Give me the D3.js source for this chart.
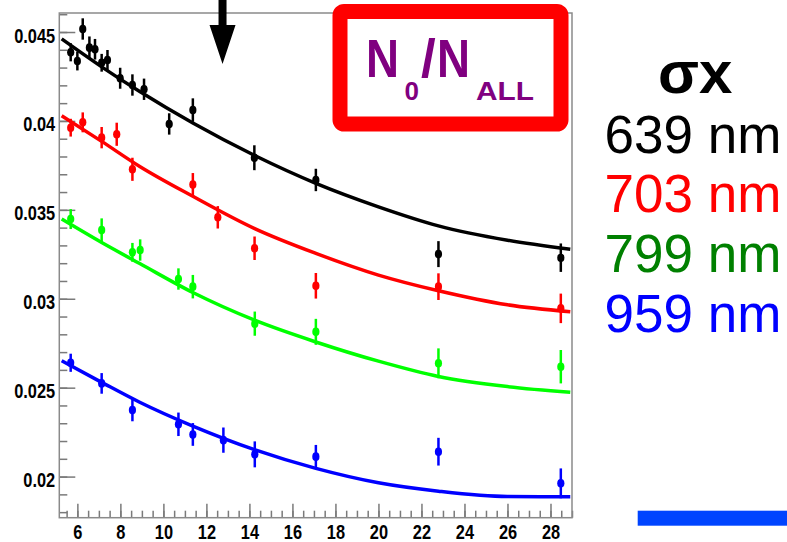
<!DOCTYPE html>
<html>
<head>
<meta charset="utf-8">
<script src="https://cdn.jsdelivr.net/npm/d3@7/dist/d3.min.js"></script>
<style>
body{margin:0;background:#fff;}
svg{display:block;}
</style>
</head>
<body>
<svg id="chart" width="787" height="542"></svg>
<script>
// 数据点 (x, y, 误差)
var xBlack = [5.69, 6.0, 6.25, 6.56, 6.82, 7.13, 7.40, 7.99, 8.56, 9.10, 10.27, 11.37, 14.23, 17.09, 22.79, 28.48];
var yBlack = [0.04386, 0.04337, 0.04517, 0.04412, 0.04403, 0.04327, 0.04343, 0.04240, 0.04202, 0.04178, 0.03983, 0.04061, 0.03793, 0.03668, 0.03251, 0.03231];
var eBlack = [0.00051, 0.00053, 0.0006, 0.00063, 0.00058, 0.0005, 0.00056, 0.00059, 0.0006, 0.0006, 0.0006, 0.00066, 0.0007, 0.00063, 0.00073, 0.0008];

var xRed = [5.69, 6.25, 7.13, 7.83, 8.56, 11.37, 12.53, 14.24, 17.09, 22.79, 28.48];
var yRed = [0.03962, 0.03992, 0.03906, 0.03925, 0.03728, 0.03642, 0.03458, 0.03284, 0.03073, 0.03068, 0.02946];
var eRed = [0.0005, 0.00056, 0.0006, 0.00065, 0.00065, 0.00065, 0.00063, 0.00066, 0.00072, 0.00075, 0.00083];

var xGreen = [5.69, 7.13, 8.56, 8.92, 10.70, 11.37, 14.25, 17.09, 22.79, 28.48];
var yGreen = [0.03448, 0.03386, 0.03261, 0.03274, 0.03111, 0.03068, 0.02860, 0.02814, 0.02637, 0.02618];
var eGreen = [0.00056, 0.00066, 0.00053, 0.0006, 0.0006, 0.00066, 0.00068, 0.00073, 0.00084, 0.00094];

var xBlue = [5.69, 7.13, 8.56, 10.70, 11.37, 12.79, 14.25, 17.09, 22.79, 28.48];
var yBlue = [0.02640, 0.02524, 0.02374, 0.02294, 0.02237, 0.02205, 0.02125, 0.02112, 0.02140, 0.01962];
var eBlue = [0.00051, 0.00058, 0.00063, 0.00066, 0.00064, 0.00071, 0.00073, 0.00066, 0.00078, 0.00084];

// 拟合曲线 (从图上读出的点)
var fitX     = [5.27, 7.13, 8.9, 11.37, 14.27, 17.09, 20, 22.79, 26, 28.92];
var fitBlack = [0.04461, 0.04304, 0.04165, 0.03988, 0.03804, 0.03649, 0.03517, 0.03410, 0.03329, 0.03278];
var fitRed   = [0.04029, 0.03885, 0.03744, 0.03576, 0.03393, 0.03255, 0.03133, 0.03045, 0.02966, 0.02927];
var fitGreen = [0.03448, 0.03316, 0.03198, 0.03035, 0.02878, 0.02757, 0.02649, 0.02563, 0.02506, 0.02474];
var fitBlue  = [0.02651, 0.02530, 0.02418, 0.02284, 0.02150, 0.02046, 0.01965, 0.01918, 0.01888, 0.01887];

// 刻度 / 图例
var xTicks = [6, 8, 10, 12, 14, 16, 18, 20, 22, 24, 26, 28];
var yTicks = [0.02, 0.025, 0.03, 0.035, 0.04, 0.045];
var legendTitle = "σx";
var legendLabels = ["639 nm", "703 nm", "799 nm", "959 nm"];
var arrowAt = 12.75;

var series = [
	{x: xBlack, y: yBlack, e: eBlack, fit: fitBlack, color: "#000000", text: "#000000"},
	{x: xRed,   y: yRed,   e: eRed,   fit: fitRed,   color: "#ff0000", text: "#ff0000"},
	{x: xGreen, y: yGreen, e: eGreen, fit: fitGreen, color: "#00ff00", text: "#008000"},
	{x: xBlue,  y: yBlue,  e: eBlue,  fit: fitBlue,  color: "#0000ff", text: "#0000ff"}
];

var padL = 59.3, padT = 13, padR = 572, padB = 517.7;
var x = d3.scaleLinear().domain([5.16, 29.0]).range([padL, padR]);
var y = d3.scaleLinear().domain([0.017688, 0.046069]).range([padB, padT]);

var svg = d3.select("#chart");
var font = "'Liberation Sans', Arial, sans-serif";

// 次刻度
svg.append("g")
	.attr("transform", "translate(" + padL + ",0)")
	.call(d3.axisLeft(y).tickValues(y.ticks(28)).tickSize(-8).tickFormat(""))
	.call(function(g){ g.select(".domain").remove(); });
svg.append("g")
	.attr("transform", "translate(0," + padB + ")")
	.call(d3.axisBottom(x).tickValues(x.ticks(48)).tickSize(-7).tickFormat(""))
	.call(function(g){ g.select(".domain").remove(); });

// 主刻度
var yAxis = svg.append("g")
	.attr("transform", "translate(" + padL + ",0)")
	.call(d3.axisLeft(y).tickValues(yTicks).tickSize(-16).tickPadding(5).tickFormat(d3.format(".3~f")))
	.call(function(g){ g.select(".domain").remove(); });
yAxis.selectAll("text").attr("dy", "0.5em");

var xAxis = svg.append("g")
	.attr("transform", "translate(0," + padB + ")")
	.call(d3.axisBottom(x).tickValues(xTicks).tickSize(-14).tickPadding(7).tickFormat(d3.format("d")))
	.call(function(g){ g.select(".domain").remove(); });

svg.selectAll(".tick line").attr("stroke", "#7a7a7a").attr("stroke-width", 1.5);
// 字体偏窄, 用 scaleX 压缩
svg.selectAll(".tick text")
	.attr("fill", "#000")
	.attr("font-family", font)
	.attr("font-size", 20)
	.attr("font-weight", "bold")
	.attr("transform", "scale(0.82,1)");

// 边框
svg.append("rect")
	.attr("x", padL).attr("y", padT)
	.attr("width", padR - padL).attr("height", padB - padT)
	.attr("fill", "none")
	.attr("stroke", "#8a8a8a")
	.attr("stroke-width", 1.5);

// 数据点 + 误差棒
var line = d3.line()
	.x(function(d){ return x(d[0]); })
	.y(function(d){ return y(d[1]); })
	.curve(d3.curveMonotoneX);

series.forEach(function(s){
	var pts = s.x.map(function(v, i){ return {x: v, y: s.y[i], e: s.e[i]}; });
	var g = svg.append("g").attr("class", "series");
	g.selectAll("line")
		.data(pts)
		.enter()
		.append("line")
		.attr("x1", function(d){ return x(d.x); })
		.attr("x2", function(d){ return x(d.x); })
		.attr("y1", function(d){ return y(d.y - d.e); })
		.attr("y2", function(d){ return y(d.y + d.e); })
		.attr("stroke", s.color)
		.attr("stroke-width", 2.5);
	g.selectAll("ellipse")
		.data(pts)
		.enter()
		.append("ellipse")
		.attr("cx", function(d){ return x(d.x); })
		.attr("cy", function(d){ return y(d.y); })
		.attr("rx", 3.6)
		.attr("ry", 4.3)
		.attr("fill", s.color);
});

// 拟合线
series.forEach(function(s){
	svg.append("path")
		.datum(fitX.map(function(v, i){ return [v, s.fit[i]]; }))
		.attr("d", line)
		.attr("fill", "none")
		.attr("stroke", s.color)
		.attr("stroke-width", 3.5);
});

// 箭头
var ax = x(arrowAt);
svg.append("path")
	.attr("d", "M" + (ax - 4) + ",0 L" + (ax + 4) + ",0 L" + (ax + 4) + ",25 L" + (ax + 13) + ",25 L" + ax + ",64 L" + (ax - 13) + ",25 L" + (ax - 4) + ",25 Z")
	.attr("fill", "#000");

// 标题框
svg.append("rect")
	.attr("x", 340).attr("y", 11.5)
	.attr("width", 221).attr("height", 112.5)
	.attr("rx", 4)
	.attr("fill", "#fff")
	.attr("stroke", "#ff0000")
	.attr("stroke-width", 15);

var title = svg.append("text")
	.attr("fill", "#800080")
	.attr("font-family", font)
	.attr("font-weight", "bold");
title.append("tspan").attr("x", 366).attr("y", 77).attr("font-size", 53)
	.attr("textLength", 33).attr("lengthAdjust", "spacingAndGlyphs").text("N");
title.append("tspan").attr("x", 404.5).attr("y", 100).attr("font-size", 26).text("0");
title.append("tspan").attr("x", 421).attr("y", 77).attr("font-size", 53).text("/");
title.append("tspan").attr("x", 437).attr("y", 77).attr("font-size", 53)
	.attr("textLength", 33).attr("lengthAdjust", "spacingAndGlyphs").text("N");
title.append("tspan").attr("x", 476).attr("y", 100).attr("font-size", 26)
	.attr("textLength", 58).attr("lengthAdjust", "spacingAndGlyphs").text("ALL");

// 图例
svg.append("text")
	.attr("x", 658).attr("y", 93)
	.attr("font-family", font)
	.attr("font-weight", "bold")
	.attr("font-size", 60)
	.attr("fill", "#000")
	.text(legendTitle);

svg.selectAll("text.legend")
	.data(legendLabels)
	.enter()
	.append("text")
	.attr("class", "legend")
	.attr("x", 604.5)
	.attr("y", function(d, i){ return 152.5 + i * 59.7; })
	.attr("font-family", font)
	.attr("font-size", 53)
	.attr("fill", function(d, i){ return series[i].text; })
	.text(function(d){ return d; });

// 右下角蓝条
svg.append("rect")
	.attr("x", 637.7).attr("y", 510.7)
	.attr("width", 149.3).attr("height", 15)
	.attr("fill", "#0044ff");
</script>
</body>
</html>
